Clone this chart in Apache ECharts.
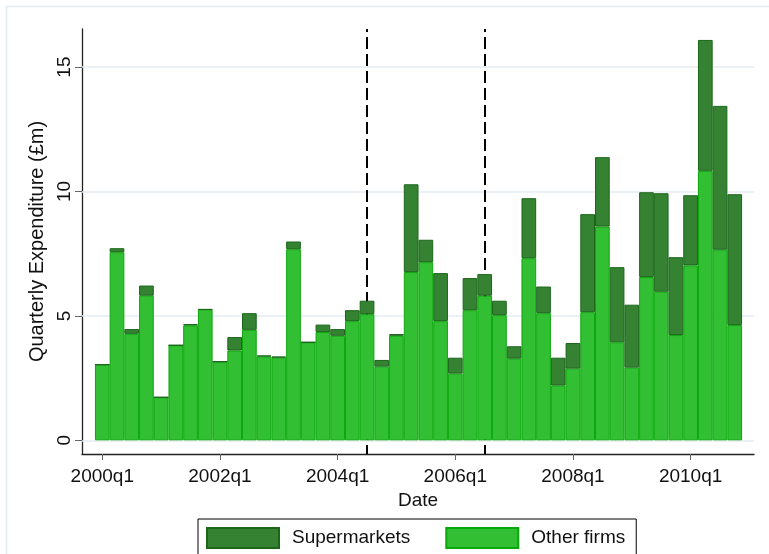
<!DOCTYPE html>
<html>
<head>
<meta charset="utf-8">
<title>Quarterly Expenditure</title>
<script src="https://cdn.jsdelivr.net/npm/echarts@6/dist/echarts.min.js"></script>
<style>
  html, body { margin: 0; padding: 0; background: #fff; }
  #chart { width: 769px; height: 554px; }
</style>
</head>
<body>
<div id="chart"></div>
<script>
// Quarters 2000q1 .. 2010q4
const quarters = [
  '2000q1','2000q2','2000q3','2000q4','2001q1','2001q2','2001q3','2001q4',
  '2002q1','2002q2','2002q3','2002q4','2003q1','2003q2','2003q3','2003q4',
  '2004q1','2004q2','2004q3','2004q4','2005q1','2005q2','2005q3','2005q4',
  '2006q1','2006q2','2006q3','2006q4','2007q1','2007q2','2007q3','2007q4',
  '2008q1','2008q2','2008q3','2008q4','2009q1','2009q2','2009q3','2009q4',
  '2010q1','2010q2','2010q3','2010q4'
];

// Quarterly expenditure (£m) by other firms
const otherFirms = [
  3.04, 7.56, 4.28, 5.81, 1.73, 3.82, 4.62, 5.25,
  3.16, 3.61, 4.44, 3.37, 3.32, 7.68, 3.94, 4.35,
  4.20, 4.79, 5.07, 2.96, 4.20, 6.76, 7.16, 4.79,
  2.68, 5.23, 5.81, 5.03, 3.28, 7.32, 5.11, 2.20,
  2.88, 5.15, 8.59, 3.94, 2.92, 6.56, 5.97, 4.23,
  7.03, 10.83, 7.66, 4.63
];

// Quarterly expenditure (£m) by supermarkets
const supermarkets = [
  0.00, 0.16, 0.19, 0.41, 0.00, 0.00, 0.05, 0.02,
  0.00, 0.54, 0.67, 0.04, 0.05, 0.31, 0.00, 0.30,
  0.27, 0.44, 0.54, 0.27, 0.07, 3.53, 0.90, 1.93,
  0.64, 1.29, 0.87, 0.58, 0.50, 2.41, 1.07, 1.12,
  1.03, 3.94, 2.79, 3.02, 2.53, 3.41, 3.96, 3.13,
  2.82, 5.26, 5.78, 5.26
];

// Labelled ticks
const xTickLabels = ['2000q1', '2002q1', '2004q1', '2006q1', '2008q1', '2010q1'];
const yTickValues = [0, 5, 10, 15];

// Reference quarters marked with dashed lines
const markedQuarters = ['2004q3', '2006q3'];

const FONT = "'Liberation Sans', Arial, sans-serif";
const W = 769;

// Plot frame (pixels) and axis ranges
const plotLeft = 82, plotRight = 15, plotTop = 29, plotBottom = 100;
const xMin = -1.38, xMax = 44.31;
const yMin = -0.55, yMax = 16.53;

// The bar grid covers exactly the quarters' bands inside the axis frame
const pxPerQuarter = (W - plotLeft - plotRight) / (xMax - xMin);
const barGridLeft = plotLeft + (-0.5 - xMin) * pxPerQuarter;
const barGridRight = plotRight + (xMax - (quarters.length - 0.5)) * pxPerQuarter;

const xTickValues = xTickLabels.map(q => quarters.indexOf(q));

const chart = echarts.init(document.getElementById('chart'), null, { renderer: 'canvas' });

chart.setOption({
  animation: false,
  backgroundColor: '#ffffff',
  graphic: [{
    type: 'rect',
    silent: true,
    z: -10,
    shape: { x: 6.5, y: 6.5, width: 800, height: 600 },
    style: { fill: 'none', stroke: '#e3ebee', lineWidth: 1.5 }
  }],
  grid: [
    { left: plotLeft, right: plotRight, top: plotTop, bottom: plotBottom, containLabel: false },
    { left: barGridLeft, right: barGridRight, top: plotTop, bottom: plotBottom, containLabel: false }
  ],
  legend: {
    data: ['Supermarkets', 'Other firms'],
    left: 198,
    top: 519,
    orient: 'horizontal',
    itemWidth: 72,
    itemHeight: 20,
    itemGap: 35,
    icon: 'rect',
    borderColor: '#000',
    borderWidth: 1,
    padding: [8, 11, 10, 8],
    textStyle: { fontFamily: FONT, fontSize: 19, color: '#111', padding: [0, 0, 0, 8] }
  },
  xAxis: [
    {
      gridIndex: 0,
      type: 'value',
      min: xMin,
      max: xMax,
      name: 'Date',
      nameLocation: 'middle',
      nameGap: 33,
      nameTextStyle: { fontFamily: FONT, fontSize: 19, color: '#111' },
      axisLine: { show: true, onZero: false, lineStyle: { color: '#222', width: 1.3 } },
      axisTick: { show: true, customValues: xTickValues, length: 6, lineStyle: { color: '#666', width: 1 } },
      axisLabel: {
        customValues: xTickValues,
        formatter: v => quarters[Math.round(v)],
        margin: 13,
        fontFamily: FONT, fontSize: 19, color: '#111'
      },
      splitLine: { show: false }
    },
    {
      gridIndex: 1,
      type: 'category',
      data: quarters,
      boundaryGap: true,
      show: false
    }
  ],
  yAxis: [
    {
      gridIndex: 0,
      type: 'value',
      min: yMin,
      max: yMax,
      name: 'Quarterly Expenditure (£m)',
      nameLocation: 'middle',
      nameRotate: 90,
      nameGap: 32,
      nameTextStyle: { fontFamily: FONT, fontSize: 20, color: '#111' },
      axisLine: { show: true, onZero: false, lineStyle: { color: '#222', width: 1.3 } },
      axisTick: { show: true, customValues: yTickValues, length: 7, lineStyle: { color: '#666', width: 1 } },
      axisLabel: {
        customValues: yTickValues,
        rotate: 90,
        margin: 8,
        fontFamily: FONT, fontSize: 19, color: '#111'
      },
      splitLine: { show: false }
    },
    {
      gridIndex: 1,
      type: 'value',
      min: yMin,
      max: yMax,
      show: false,
      splitLine: { show: false }
    }
  ],
  series: [
    {
      // horizontal gridlines and the dashed reference lines, drawn beneath the bars
      type: 'line',
      xAxisIndex: 0,
      yAxisIndex: 0,
      data: [],
      z: 1,
      silent: true,
      markLine: {
        z: 1,
        silent: true,
        symbol: 'none',
        label: { show: false },
        animation: false,
        data: [
          ...yTickValues.map(v => ({ yAxis: v, lineStyle: { color: '#e4edf0', width: 1.6, type: 'solid' } })),
          ...markedQuarters.map(q => ({ xAxis: quarters.indexOf(q), lineStyle: { color: '#000', width: 2, type: [12, 5], dashOffset: 3 } }))
        ]
      }
    },
    {
      name: 'Other firms',
      type: 'bar',
      xAxisIndex: 1,
      yAxisIndex: 1,
      stack: 'total',
      z: 3,
      barCategoryGap: 0,
      data: otherFirms,
      itemStyle: { color: '#33bf33', borderColor: '#0aa80a', borderWidth: 1 }
    },
    {
      name: 'Supermarkets',
      type: 'bar',
      xAxisIndex: 1,
      yAxisIndex: 1,
      stack: 'total',
      z: 3,
      barCategoryGap: 0,
      data: supermarkets,
      itemStyle: { color: '#358232', borderColor: '#1b661b', borderWidth: 1 }
    }
  ]
});
</script>
</body>
</html>
